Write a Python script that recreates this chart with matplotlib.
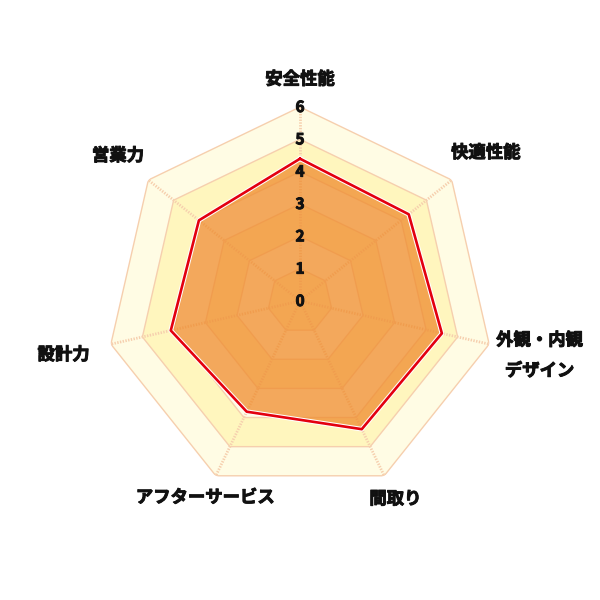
import numpy as np
import matplotlib
matplotlib.use("Agg")
import matplotlib.pyplot as plt
import matplotlib.patheffects as pe

plt.rcParams['font.family'] = ['Noto Sans CJK JP', 'DejaVu Sans']

categories = ["安全性能", "快適性能", "外観・内観\nデザイン", "間取り", "アフターサービス", "設計力", "営業力"]
values = [4.4, 4.3, 4.5, 4.4, 3.8, 4.1, 4.0]
ticks = [0, 1, 2, 3, 4, 5, 6]
label_r = [6.85, 7.35, 7.6, 6.8, 6.75, 7.5, 7.2]

n = len(categories)
theta = np.linspace(0, 2 * np.pi, n, endpoint=False)
theta_c = np.append(theta, theta[0])

fig = plt.figure(figsize=(6, 6), dpi=100)
ax = fig.add_axes([0.1767, 0.175, 0.6467, 0.6467], projection='polar')
ax.set_theta_offset(np.pi / 2)
ax.set_theta_direction(-1)
ax.set_ylim(0, max(ticks))
ax.set_xticks([])
ax.set_yticks([])
ax.grid(False)
ax.spines['polar'].set_visible(False)
ax.patch.set_alpha(0)

pale = "#FFFCE4"
sat = "#FFF6BE"
line_col = "#F6CFAE"

# bands
for k in range(max(ticks), 0, -1):
    col = pale if (max(ticks) - k) % 2 == 0 else sat
    ax.fill(theta_c, [k] * (n + 1), color=col, lw=0, zorder=1)
# ring lines
for k in ticks[1:]:
    ax.plot(theta_c, [k] * (n + 1), color=line_col, lw=1.0, zorder=2)
# spokes
for t in theta:
    ax.plot([t, t], [0, max(ticks)], color=line_col, lw=2.0, ls=(0, (0.5, 0.5)), zorder=2)

# data
vals_c = values + values[:1]
ax.fill(theta_c, vals_c, color="#EF8C2E", alpha=0.75, lw=0, zorder=3)
ax.plot(theta_c, vals_c, color="white", lw=3.4, zorder=3.5)
ax.plot(theta_c, vals_c, color="#E3000F", lw=1.9, zorder=4)

heavy = [pe.withStroke(linewidth=0.7, foreground='#111111')]

# tick labels
for k in ticks:
    ax.text(0, k, str(k), ha='center', va='center', fontsize=11,
            fontweight='bold', color='#111111', zorder=5, path_effects=heavy)

# category labels
for t, lab, r in zip(theta, categories, label_r):
    ax.text(t, r, lab, ha='center', va='center', fontsize=12.5,
            fontweight='bold', color='#111111', linespacing=1.9,
            clip_on=False, zorder=5, path_effects=heavy)

fig.savefig("out.png", dpi=100, facecolor="white")
